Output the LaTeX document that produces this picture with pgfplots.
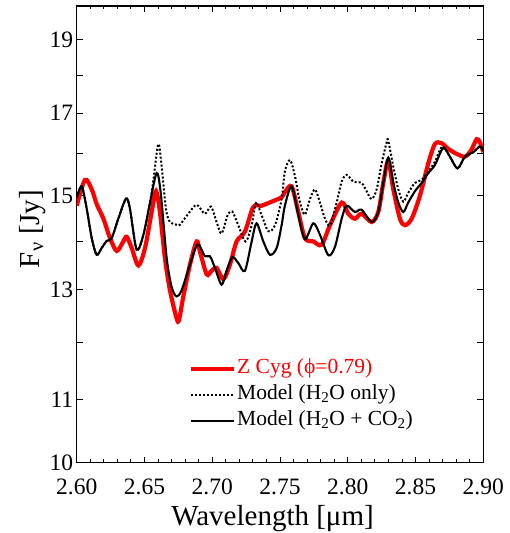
\documentclass[border=0pt]{standalone}
\usepackage{pgfplots}
\pgfplotsset{compat=1.18}
\usepackage{fontspec}
\setmainfont{Liberation Serif}
\definecolor{zred}{RGB}{255,0,0}
\begin{document}
\begin{tikzpicture}
\begin{axis}[
  width=406.6pt, height=456.7pt, scale only axis,
  xmin=2.6, xmax=2.9, ymode=log, ymin=10, ymax=20,
  xtick={2.60,2.65,2.70,2.75,2.80,2.85,2.90},
  xticklabels={2.60,2.65,2.70,2.75,2.80,2.85,2.90},
  minor x tick num=4,
  ytick={10,11,12,13,14,15,16,17,18,19},
  yticklabels={10,11,,13,,15,,17,,19},
  minor ytick={},
  /pgf/number format/assume math mode=true,
  tick style={black, line width=0.9pt},
  major tick length=6pt, minor tick length=3.5pt,
  axis line style={line width=1.2pt},
  ticklabel style={font=\fontsize{23.5}{28}\selectfont},
  xticklabel style={yshift=-13pt},
  legend cell align=left,
  legend style={draw=none, fill=none, inner sep=0pt, row sep=1pt,
    at={(axis description cs:0.2745,0.2336)}, anchor=north west,
    font=\fontsize{21.5}{25}\selectfont,
    nodes={inner sep=1.5pt, text height=16pt, text depth=6pt}},
  legend image code/.code={\draw[#1] (0pt,0pt) -- (43pt,0pt);},
]
\addplot[zred, line width=4.2pt, smooth, tension=0.5] coordinates {
(2.6000,14.77) (2.6061,15.36) (2.6111,15.14) (2.6147,14.81) (2.6197,14.48)
(2.6246,14.06) (2.6295,13.79) (2.6344,13.99) (2.6369,14.09) (2.6406,13.85)
(2.6455,13.49) (2.6504,13.85) (2.6553,14.63) (2.6585,15.10) (2.6614,14.63)
(2.6651,13.64) (2.6688,12.99) (2.6737,12.45) (2.6755,12.42) (2.6786,12.86)
(2.6836,13.51) (2.6885,13.99) (2.6909,13.78) (2.6959,13.31) (2.6995,13.38)
(2.7032,13.44) (2.7082,13.21) (2.7131,13.51) (2.7180,13.99) (2.7241,14.20)
(2.7303,14.74) (2.7364,14.77) (2.7438,14.86) (2.7512,14.96) (2.7536,15.08)
(2.7586,15.21) (2.7635,14.63) (2.7684,14.06) (2.7746,13.99) (2.7807,13.92)
(2.7869,14.34) (2.7955,14.84) (2.8004,14.59) (2.8053,14.48) (2.8102,14.59)
(2.8176,14.41) (2.8225,14.63) (2.8262,15.29) (2.8299,15.81) (2.8336,15.14)
(2.8385,14.48) (2.8422,14.34) (2.8471,14.48) (2.8532,14.99) (2.8594,15.75)
(2.8643,16.22) (2.8692,16.24) (2.8742,16.10) (2.8803,15.98) (2.8864,15.91)
(2.8909,16.06) (2.8951,16.34) (2.8975,16.26) (2.9000,16.02)
};
\addlegendentry{\textcolor{zred}{Z Cyg (ϕ=0.79)}}
\addplot[black, line width=2pt, dash pattern=on 2pt off 2pt, smooth, tension=0.5] coordinates {
(2.6000,14.95) (2.6037,15.21) (2.6074,14.70) (2.6111,14.06) (2.6147,13.71)
(2.6184,13.85) (2.6221,14.00) (2.6258,14.06) (2.6307,14.48) (2.6364,14.93)
(2.6393,14.70) (2.6442,13.82) (2.6492,14.13) (2.6541,14.84) (2.6566,15.36)
(2.6602,16.22) (2.6627,15.67) (2.6659,14.69) (2.6688,14.41) (2.6737,14.35)
(2.6762,14.35) (2.6823,14.59) (2.6885,14.79) (2.6946,14.59) (2.6991,14.75)
(2.7032,14.41) (2.7069,14.16) (2.7114,14.56) (2.7148,14.64) (2.7192,14.34)
(2.7246,13.99) (2.7291,14.34) (2.7323,14.83) (2.7364,14.56) (2.7414,14.21)
(2.7463,14.34) (2.7512,14.92) (2.7536,15.56) (2.7574,15.83) (2.7611,15.44)
(2.7648,14.84) (2.7684,14.57) (2.7721,14.92) (2.7758,15.14) (2.7795,14.84)
(2.7832,14.48) (2.7869,14.34) (2.7918,14.84) (2.7955,15.32) (2.7992,15.48)
(2.8041,15.32) (2.8102,15.29) (2.8139,15.10) (2.8176,14.92) (2.8213,15.14)
(2.8250,15.75) (2.8287,16.26) (2.8299,16.30) (2.8336,15.67) (2.8373,15.14)
(2.8410,14.86) (2.8446,15.06) (2.8496,15.29) (2.8545,15.36) (2.8594,15.56)
(2.8643,15.79) (2.8697,16.16) (2.8754,15.91) (2.8810,15.63) (2.8864,15.91)
(2.8926,16.02) (2.8975,16.16) (2.9000,16.06)
};
\addlegendentry{Model (H\textsubscript{2}O only)}
\addplot[black, line width=2.1pt, smooth, tension=0.5] coordinates {
(2.6000,14.95) (2.6037,15.21) (2.6074,14.70) (2.6111,14.06) (2.6147,13.71)
(2.6184,13.85) (2.6221,14.00) (2.6258,14.06) (2.6307,14.48) (2.6364,14.93)
(2.6393,14.70) (2.6442,13.82) (2.6492,14.13) (2.6541,14.84) (2.6590,15.52)
(2.6620,15.06) (2.6664,13.64) (2.6701,13.05) (2.6737,12.87) (2.6774,12.99)
(2.6836,13.51) (2.6892,13.93) (2.6946,13.68) (2.6983,13.68) (2.7020,13.44)
(2.7069,13.10) (2.7106,13.38) (2.7148,13.66) (2.7192,13.54) (2.7241,13.38)
(2.7291,13.99) (2.7327,14.38) (2.7377,13.99) (2.7426,13.71) (2.7475,13.85)
(2.7512,14.34) (2.7536,14.77) (2.7586,15.21) (2.7635,14.56) (2.7684,14.04)
(2.7746,14.38) (2.7795,14.13) (2.7857,13.70) (2.7906,13.88) (2.7955,14.48)
(2.7992,14.77) (2.8053,14.63) (2.8102,14.68) (2.8176,14.41) (2.8225,14.63)
(2.8262,15.29) (2.8299,15.89) (2.8336,15.29) (2.8373,14.84) (2.8410,14.63)
(2.8446,14.84) (2.8496,15.10) (2.8545,15.29) (2.8594,15.52) (2.8643,15.71)
(2.8704,16.12) (2.8754,15.91) (2.8810,15.63) (2.8864,15.91) (2.8926,16.02)
(2.8975,16.16) (2.9000,16.06)
};
\addlegendentry{Model (H\textsubscript{2}O + CO\textsubscript{2})}
\coordinate (sw) at (rel axis cs:0,0);
\coordinate (xc) at (rel axis cs:0.5,0);
\coordinate (yc) at (rel axis cs:0,0.5);
\end{axis}
\node[anchor=base, font=\fontsize{29}{34}\selectfont] at ([xshift=-7.5pt, yshift=-62.5pt]xc) {Wavelength [μm]};
\node[rotate=90, anchor=base, font=\fontsize{29}{34}\selectfont] at ([xshift=-37.4pt, yshift=5.4pt]yc) {F\textsubscript{ν} [Jy]};
\pgfresetboundingbox
\path (sw) ++(-76.7pt,-70.3pt) rectangle ++(509pt,533pt);
\end{tikzpicture}
\end{document}
